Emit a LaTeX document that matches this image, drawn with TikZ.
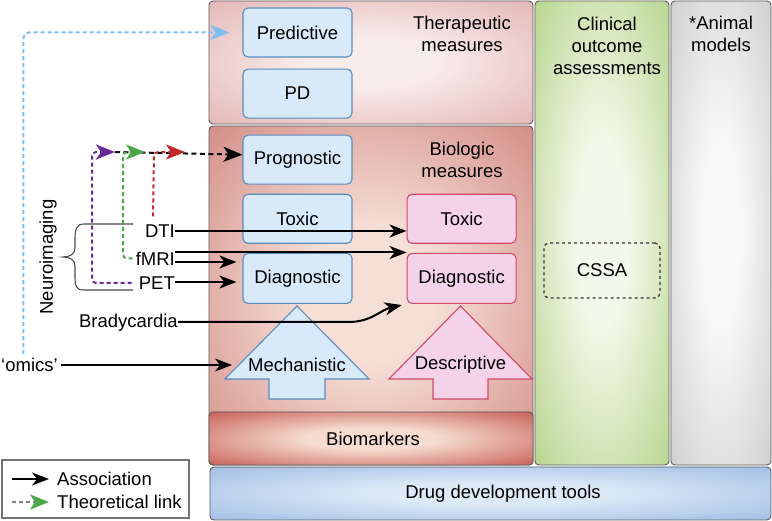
\documentclass[tikz,border=0pt]{standalone}
\usepackage{fontspec}
\setmainfont{Liberation Sans}
\usetikzlibrary{arrows.meta,calc,positioning}
\definecolor{bxfill}{HTML}{D8EAFA}
\definecolor{bxline}{HTML}{5A8CBC}
\definecolor{pkfill}{HTML}{F3D2EA}
\definecolor{pkline}{HTML}{D04A68}
\definecolor{thin}{HTML}{F8ECEA}
\definecolor{thout}{HTML}{E2B2B2}
\definecolor{bioin}{HTML}{F5DED6}
\definecolor{bioout}{HTML}{D08680}
\definecolor{bmin}{HTML}{F6DCD0}
\definecolor{bmout}{HTML}{C4544C}
\definecolor{coain}{HTML}{F3F8EA}
\definecolor{coaout}{HTML}{B2D286}
\definecolor{anin}{HTML}{F8F8F8}
\definecolor{anout}{HTML}{CCCCCC}
\definecolor{ddtin}{HTML}{DDE9F7}
\definecolor{ddtout}{HTML}{9CBAE2}
\definecolor{omblue}{HTML}{7DBDF0}
\definecolor{ppl}{HTML}{6A2A9A}
\definecolor{grn}{HTML}{4CA64C}
\definecolor{rd}{HTML}{C0282C}
\colorlet{shin}{white}
\colorlet{shout}{gray}
\pgfdeclareradialshading[shin,shout]{softrad}{\pgfpoint{0bp}{0bp}}{color(0bp)=(shin); color(10bp)=(shin); color(38bp)=(shout); color(50bp)=(shout)}
\newcommand{\lbl}{\fontsize{18.5}{22}\selectfont}

\begin{document}
\begin{tikzpicture}[x=1pt, y=-1pt, node distance=2cm,
	panel/.style 2 args={draw=black!65, line width=0.9pt, rounded corners=4pt, inner sep=0pt, /utils/exec={\colorlet{shin}{#1}\colorlet{shout}{#2}}, shade, shading=softrad},
	bbox/.style={draw=bxline, fill=bxfill, line width=1.1pt, rounded corners=5pt, minimum width=109pt, minimum height=49pt, font=\lbl},
	pbox/.style={bbox, draw=pkline, fill=pkfill},
	lab/.style={font=\lbl, inner sep=0pt, align=center},
	assoc/.style={line width=2pt, -{Stealth[length=17pt, width=13pt, inset=5pt]}},
	theo/.style={line width=2pt, dash pattern=on 4pt off 3pt, rounded corners=4pt, -{Stealth[length=19pt, width=15pt, inset=5pt]}}]
		\useasboundingbox (0,0) rectangle (772,521);
		\node[panel={thin}{thout}, minimum width=324pt, minimum height=123pt] (thera) at (371,62.5) {};
		\node[panel={bioin}{bioout}, minimum width=324pt, minimum height=339pt] (bio) at (371,295.5) {};
		\node[panel={bmin}{bmout}, minimum width=324pt, minimum height=53pt] (bmark) at (371,438.5) {};
		\node[panel={coain}{coaout}, minimum width=134pt, minimum height=464pt] (coa) at (602,233) {};
		\node[panel={anin}{anout}, minimum width=100pt, minimum height=464pt] (anim) at (721,233) {};
		\node[panel={ddtin}{ddtout}, minimum width=561pt, minimum height=53pt] (ddt) at (490.5,493.5) {};
		\node[lab] (thlab) at (462,34) {Therapeutic\\measures};
		\node[lab] (biolab) at (462,160) {Biologic\\measures};
		\node[lab] (coalab) at (607,45.5) {Clinical\\outcome\\assessments};
		\node[lab] (animlab) at (721,34) {*Animal\\models};
		\node[lab] (bmlab) at (373,439) {Biomarkers};
		\node[lab] (ddtlab) at (503,494) {Drug development tools};
		\node[draw=black!80, dashed, line width=1.3pt, rounded corners=5pt, minimum width=116pt, minimum height=55pt, font=\lbl] (cssa) at (602,270.5) {CSSA};
		\node[bbox] (pred) at (297.5,32.5) {Predictive};
		\node[bbox, below=11pt of pred] (pd) {PD};
		\node[bbox, below=16pt of pd] (prog) {Prognostic};
		\node[bbox, below=9pt of prog] (btox) {Toxic};
		\node[bbox, below=9pt of btox, minimum height=50pt] (bdiag) {Diagnostic};
		\node[pbox, right=54pt of btox] (ptox) {Toxic};
		\node[pbox, right=54pt of bdiag, minimum height=50pt] (pdiag) {Diagnostic};
		\draw[fill=bxfill, draw=bxline, line width=1.1pt] (225,379) -- (297,306) -- (369,379) -- (325,379) -- (325,399) -- (269,399) -- (269,379) -- cycle;
		\draw[fill=pkfill, draw=pkline, line width=1.1pt] (389,379) -- (460.5,306) -- (532,379) -- (488,379) -- (488,399) -- (433,399) -- (433,379) -- cycle;
		\node[lab] (mech) at (297,365) {Mechanistic};
		\node[lab] (desc) at (460.5,365) {Descriptive};
		\node[lab, anchor=east] (dti) at (175,231) {DTI};
		\node[lab, anchor=east] (fmri) at (175,258.5) {fMRI};
		\node[lab, anchor=east] (pet) at (175,283) {PET};
		\node[lab, anchor=east] (brady) at (178,323) {Bradycardia};
		\node[lab, anchor=west] (omics) at (1,365) {`omics'};
		\node[lab, rotate=90] (neuro) at (48,257) {Neuroimaging};
		\draw[black!70, line width=1.1pt] (133,224) -- (84,224) .. controls (76,224) and (75,230) .. (75,240) -- (75,248) .. controls (75,254) and (70,257) .. (63,257) .. controls (70,257) and (75,260) .. (75,266) -- (75,276) .. controls (75,286) and (76,290) .. (84,290) -- (133,290);
		\coordinate (mechL) at (232,365);
		\coordinate (tpur) at (115,152);
		\coordinate (tgrn) at (145,152);
		\coordinate (tred) at (185,152);
		\draw[theo, dash pattern=on 5pt off 3.5pt] (tpur) to ([yshift=5pt]prog.west);
		\draw[theo, omblue, shorten <=4pt, shorten >=13pt, rounded corners=6pt] ([xshift=-6pt]omics.north) |- (pred.west);
		\draw[theo, ppl] ([xshift=-7pt]pet.west) -| (92,200) |- (tpur);
		\draw[theo, grn] ([xshift=-3pt]fmri.west) -| (123,200) |- (tgrn);
		\draw[theo, rd, shorten <=8pt] ([xshift=-7pt]dti.north) -- (154,152) -- (tred);
		\draw[assoc] (dti.east) to (dti.east -| ptox.west);
		\draw[assoc] ([yshift=6pt]fmri.east) to ([yshift=6pt]fmri.east -| pdiag.west);
		\draw[assoc, shorten >=6pt] ([yshift=-3.5pt]fmri.east) to ([yshift=-3.5pt]fmri.east -| bdiag.west);
		\draw[assoc, shorten >=6pt] ([yshift=1pt]pet.east) to ([yshift=1pt]pet.east -| bdiag.west);
		\draw[assoc, shorten >=5pt] ([yshift=1pt]brady.east) -- (348,322) .. controls (372,322) and (380,310) .. (pdiag.south west);
		\draw[assoc, shorten <=3pt] (omics.east) to (mechL);
		\node[draw=black!55, line width=1.1pt, minimum width=187pt, minimum height=58pt, inner sep=0pt] (leg) at (95.5,489) {};
		\node[lab, anchor=west] (lgA) at (57,479) {Association};
		\node[lab, anchor=west] (lgT) at (57,502) {Theoretical link};
		\coordinate (la) at (12,479);
		\coordinate (lt) at (12,502);
		\draw[assoc] (la) to ([xshift=-8pt]lgA.west);
		\draw[theo, gray, -{Stealth[length=19pt, width=15pt, inset=5pt, color=grn]}] (lt) to ([xshift=-8pt]lgT.west);
\end{tikzpicture}
\end{document}
